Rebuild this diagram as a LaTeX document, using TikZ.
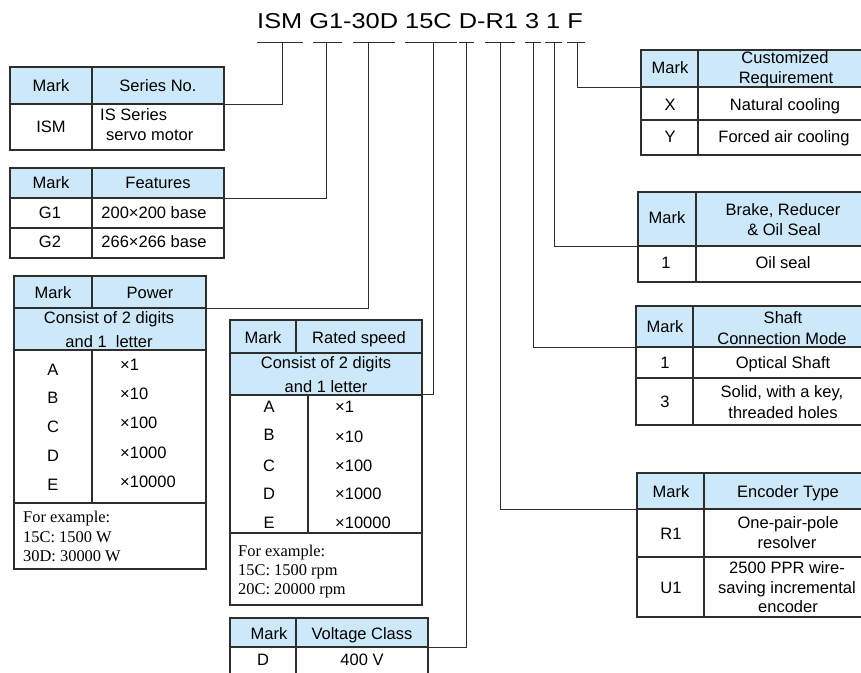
\documentclass[tikz,border=0pt]{standalone}
\usepackage{fontspec}
\setmainfont{Liberation Sans}
\newfontfamily\exfont{Liberation Serif}
\definecolor{lc}{HTML}{2E2E2E}
\definecolor{hb}{HTML}{CDE9F9}
\begin{document}
\begin{tikzpicture}[x=1pt,y=-1pt,
  tb/.style={draw=lc,line width=1.1pt},
  cn/.style={draw=lc,line width=1pt},
  tx/.style={font=\fontsize{16.5}{20}\selectfont,inner sep=0pt,anchor=base},
  txl/.style={tx,anchor=base west},
  ex/.style={font=\exfont\fontsize{16.4}{20}\selectfont,inner sep=0pt,anchor=base west},
  ttl/.style={font=\fontsize{21.5}{25}\selectfont,inner sep=0pt,anchor=base west},
]
\useasboundingbox (0,0) rectangle (861,672);
\begin{scope}
\clip (0,0) rectangle (861,672);
\fill[white] (0,0) rectangle (861,672);

% title
\node[ttl] (title) at (257,28) {\scalebox{1.18}[1]{ISM G1-30D 15C D-R1 3 1 F}};
\foreach \n/\a/\b/\t in {ISM/257/303/282, G/313/342/326, P/353/395/368, S/405/457/433, V/459/474/466, E/485/515/500, H/525/541/533, B/545/562/554, F/567/585/577} {
  \coordinate (u\n a) at (\a,42);
  \coordinate (u\n b) at (\b,42);
  \coordinate (t\n) at (\t,42);
  \draw[cn] (u\n a) -- (u\n b);
}

% Series
\fill[hb] (10,67) rectangle (224,104);
\draw[tb] (10,67) rectangle (224,150);
\draw[tb] (10,104) -- (224,104);
\draw[tb] (92,67) -- (92,150);
\node[tx] (sM) at (51,91) {Mark};
\node[tx] (sN) at (158,91) {Series No.};
\node[tx] (sI) at (51,132) {ISM};
\node[txl] (sD1) at (100,120) {IS Series};
\node[txl] (sD2) at (106,140) {servo motor};
\coordinate (jISM) at (224,104);

% Features
\fill[hb] (10,168) rectangle (224,198);
\draw[tb] (10,168) rectangle (224,258);
\draw[tb] (10,198) -- (224,198);
\draw[tb] (10,228) -- (224,228);
\draw[tb] (92,168) -- (92,258);
\node[tx] (fM) at (51,188) {Mark};
\node[tx] (fF) at (158,188) {Features};
\node[tx] (f1) at (50,218) {G1};
\node[tx] (f1d) at (154,218) {200×200 base};
\node[tx] (f2) at (50,247) {G2};
\node[tx] (f2d) at (154,247) {266×266 base};
\coordinate (jG) at (224,198);

% Power
\fill[hb] (14,276) rectangle (206,350);
\draw[tb] (14,276) rectangle (206,569);
\draw[tb] (14,308) -- (206,308);
\draw[tb] (14,350) -- (206,350);
\draw[tb] (14,503) -- (206,503);
\draw[tb] (92,276) -- (92,308);
\draw[tb] (92,350) -- (92,503);
\node[tx] (pM) at (53,298) {Mark};
\node[tx] (pP) at (150,298) {Power};
\node[tx] (pC1) at (109,323) {Consist of 2 digits};
\node[tx] (pC2) at (109,347) {and 1\ \ letter};
\foreach \l/\y/\v/\w [count=\i] in {A/375/1/370, B/403.5/10/399, C/432.5/100/428, D/461/1000/458, E/490/10000/487} {
  \node[tx] (pL\i) at (53,\y) {\l};
  \node[txl] (pV\i) at (120,\w) {×\v};
}
\node[ex] (pE1) at (23,522) {For example:};
\node[ex] (pE2) at (23,542) {15C: 1500 W};
\node[ex] (pE3) at (23,561) {30D: 30000 W};
\coordinate (jP) at (206,308);

% Rated speed
\fill[hb] (230,320) rectangle (422,395);
\draw[tb] (230,320) rectangle (422,605);
\draw[tb] (230,353) -- (422,353);
\draw[tb] (230,395) -- (422,395);
\draw[tb] (230,533) -- (422,533);
\draw[tb] (296,320) -- (296,353);
\draw[tb] (308,395) -- (308,533);
\node[tx] (rM) at (263,343) {Mark};
\node[tx] (rR) at (359,343) {Rated speed};
\node[tx] (rC1) at (326,368) {Consist of 2 digits};
\node[tx] (rC2) at (326,392) {and 1 letter};
\foreach \l/\y/\v/\w [count=\i] in {A/412/1/412, B/440/10/442, C/471/100/471, D/499/1000/499, E/528/10000/528} {
  \node[tx] (rL\i) at (269,\y) {\l};
  \node[txl] (rV\i) at (335,\w) {×\v};
}
\node[ex] (rE1) at (238,556) {For example:};
\node[ex] (rE2) at (238,575) {15C: 1500 rpm};
\node[ex] (rE3) at (238,594) {20C: 20000 rpm};
\coordinate (jS) at (422,394);

% Voltage
\fill[hb] (230,618) rectangle (428,647);
\draw[tb] (230,690) -- (230,618) -- (428,618) -- (428,690);
\draw[tb] (230,647) -- (428,647);
\draw[tb] (296,618) -- (296,690);
\node[tx] (vM) at (269,639) {Mark};
\node[tx] (vV) at (362,639) {Voltage Class};
\node[tx] (vD) at (263,665) {D};
\node[tx] (vD2) at (362,665) {400 V};
\coordinate (jV) at (428,647);

% Customized
\fill[hb] (641,50) rectangle (872,87);
\draw[tb] (641,50) rectangle (872,155);
\draw[tb] (641,87) -- (872,87);
\draw[tb] (641,120) -- (872,120);
\draw[tb] (698,50) -- (698,155);
\node[tx] (cM) at (670,73) {Mark};
\node[tx] (cC1) at (785,63) {Customized};
\node[tx] (cC2) at (786,83) {Requirement};
\node[tx] (cX) at (670,110) {X};
\node[tx] (cXd) at (785,110) {Natural cooling};
\node[tx] (cY) at (670,142) {Y};
\node[tx] (cYd) at (784,142) {Forced air cooling};
\coordinate (jF) at (641,87);

% Brake
\fill[hb] (638,192) rectangle (872,246);
\draw[tb] (638,192) rectangle (872,282);
\draw[tb] (638,246) -- (872,246);
\draw[tb] (696,192) -- (696,282);
\node[tx] (bM) at (667,223) {Mark};
\node[tx] (bB1) at (783,215) {Brake, Reducer};
\node[tx] (bB2) at (784,235) {\& Oil Seal};
\node[tx] (b1) at (666,268) {1};
\node[tx] (b1d) at (783,268) {Oil seal};
\coordinate (jB) at (638,246);

% Shaft
\fill[hb] (636,306) rectangle (872,347);
\draw[tb] (636,306) rectangle (872,425);
\draw[tb] (636,347) -- (872,347);
\draw[tb] (636,378) -- (872,378);
\draw[tb] (693,306) -- (693,425);
\node[tx] (hM) at (665,332) {Mark};
\node[tx] (hS1) at (783,323) {Shaft};
\node[tx] (hS2) at (782,344) {Connection Mode};
\node[tx] (h1) at (665,368) {1};
\node[tx] (h1d) at (783,368) {Optical Shaft};
\node[tx] (h3) at (665,407) {3};
\node[tx] (h3a) at (782,397) {Solid, with a key,};
\node[tx] (h3b) at (783,418) {threaded holes};
\coordinate (jH) at (636,347);

% Encoder
\fill[hb] (637,473) rectangle (872,509);
\draw[tb] (637,473) rectangle (872,617);
\draw[tb] (637,509) -- (872,509);
\draw[tb] (637,557) -- (872,557);
\draw[tb] (704,473) -- (704,617);
\node[tx] (eM) at (671,497) {Mark};
\node[tx] (eT) at (788,497) {Encoder Type};
\node[tx] (eR) at (671,539) {R1};
\node[tx] (eR1) at (788,528) {One-pair-pole};
\node[tx] (eR2) at (787,548) {resolver};
\node[tx] (eU) at (671,593) {U1};
\node[tx] (eU1) at (787,573) {2500 PPR wire-};
\node[tx] (eU2) at (787,593) {saving incremental};
\node[tx] (eU3) at (788,612) {encoder};
\coordinate (jE) at (637,509);

% connectors
\draw[cn] (tISM) |- (jISM);
\draw[cn] (tG) |- (jG);
\draw[cn] (tP) |- (jP);
\draw[cn] (tS) |- (jS);
\draw[cn] (tV) |- (jV);
\draw[cn] (tE) |- (jE);
\draw[cn] (tH) |- (jH);
\draw[cn] (tB) |- (jB);
\draw[cn] (tF) |- (jF);
\end{scope}
\end{tikzpicture}
\end{document}
